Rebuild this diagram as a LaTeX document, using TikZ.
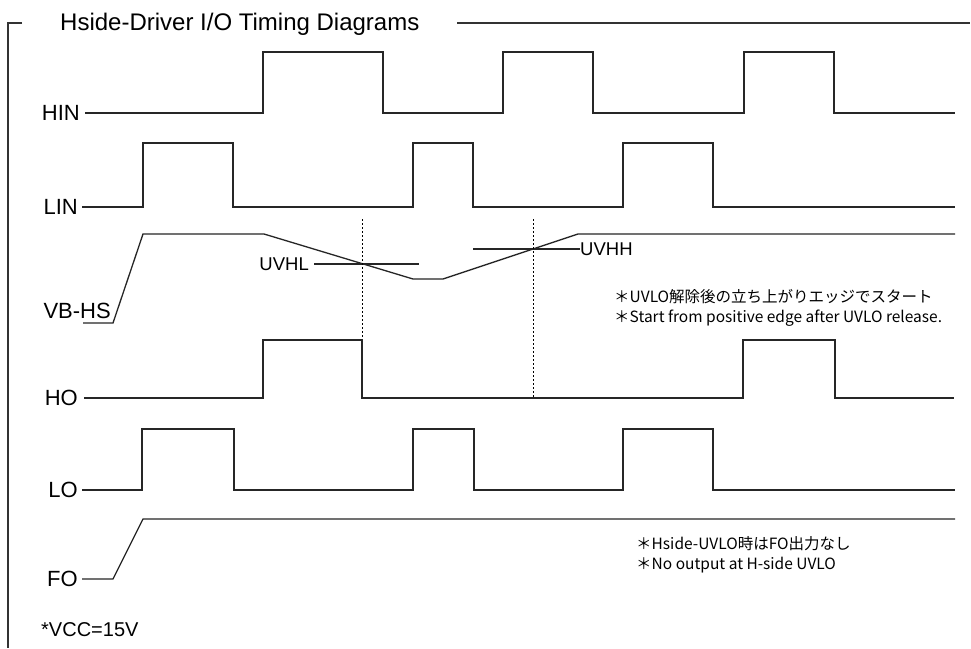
\documentclass[tikz,border=0pt]{standalone}
\usepackage{fontspec}
\setmainfont{Liberation Sans}
\newfontfamily\jpfont{Noto Sans CJK JP}
\begin{document}
\begin{tikzpicture}[x=1pt,y=-1pt,
  wave/.style={line width=1.3pt, black!85, line join=miter},
  frameline/.style={line width=1.3pt, black!80},
  vmark/.style={line width=0.8pt, dash pattern=on 2pt off 2pt, black},
  lbl/.style={font=\fontsize{22}{22}\selectfont, inner sep=0pt, anchor=east},
  uvlbl/.style={font=\fontsize{18.5}{18.5}\selectfont, inner sep=0pt},
  note/.style={font=\jpfont\fontsize{15.5}{15.5}\selectfont, inner sep=0pt, anchor=west}]
\useasboundingbox (0,0) rectangle (971,648);
\fill[white] (0,0) rectangle (971,648);
% frame and title
\node[font=\fontsize{24}{24}\selectfont, inner sep=0pt, anchor=west] (title) at (60,24) {Hside-Driver I/O Timing Diagrams};
\coordinate (fa) at (22,23);
\coordinate (fb) at (8,23);
\coordinate (fc) at (8,648);
\coordinate (fd) at (457,23);
\coordinate (fe) at (970,23);
\draw[frameline] (fa) -- (fb) -- (fc);
\draw[frameline] (fd) -- (fe);
% HIN
\node[lbl] (hin) at (80,113) {HIN};
\draw[wave] ([xshift=5pt]hin.east) -- (263,113) -- (263,52) -- (383,52) -- (383,113) -- (503,113) -- (503,52) -- (593,52) -- (593,113) -- (744,113) -- (744,52) -- (834,52) -- (834,113) -- (955,113);
% LIN
\node[lbl] (lin) at (78,207) {LIN};
\draw[wave] ([xshift=4pt]lin.east) -- (143,207) -- (143,143) -- (233,143) -- (233,207) -- (413,207) -- (413,143) -- (473,143) -- (473,207) -- (623,207) -- (623,143) -- (713,143) -- (713,207) -- (955,207);
% VB-HS
\node[font=\fontsize{22}{22}\selectfont, inner sep=0pt, anchor=base east] (vbhs) at (111,318) {VB-HS};
\coordinate (vbstart) at (83,323);
\draw[wave] (vbstart) -- (113,323) -- (143,234) -- (264,234) -- (413,279) -- (443,279) -- (578,234) -- (955,234);
% UV thresholds
\node[uvlbl, anchor=east] (uvhl) at (309,264) {UVHL};
\draw[wave] ([xshift=5pt]uvhl.east) -- (419,264);
\node[uvlbl, anchor=west] (uvhh) at (580,249) {UVHH};
\coordinate (uvhhstart) at (473,249);
\draw[wave] (uvhhstart) -- (uvhh.west);
% dotted markers
\coordinate (d1a) at (362,219);
\coordinate (d1b) at (362,340);
\coordinate (d2a) at (533,219);
\coordinate (d2b) at (533,398);
\draw[vmark] (d1a) -- (d1b);
\draw[vmark] (d2a) -- (d2b);
% notes
\node[note] (n1) at (614,297) {＊UVLO解除後の立ち上がりエッジでスタート};
\node[note] (n2) at (614,318) {＊Start from positive edge after UVLO release.};
% HO
\node[lbl] (ho) at (78,398) {HO};
\draw[wave] ([xshift=6pt]ho.east) -- (263,398) -- (263,340) -- (362,340) -- (362,398) -- (743,398) -- (743,340) -- (835,340) -- (835,398) -- (954,398);
% LO
\node[lbl] (lo) at (78,490) {LO};
\draw[wave] ([xshift=4pt]lo.east) -- (142,490) -- (142,429) -- (234,429) -- (234,490) -- (413,490) -- (413,429) -- (474,429) -- (474,490) -- (623,490) -- (623,429) -- (713,429) -- (713,490) -- (955,490);
% FO
\node[lbl] (fo) at (78,579) {FO};
\draw[wave] ([xshift=4pt]fo.east) -- (113,579) -- (143,519) -- (955,519);
\node[note] (n3) at (636,544) {＊Hside-UVLO時はFO出力なし};
\node[note] (n4) at (636,565) {＊No output at H-side UVLO};
% VCC
\node[font=\fontsize{20}{20}\selectfont, inner sep=0pt, anchor=west] (vcc) at (41,630) {*VCC=15V};
\end{tikzpicture}
\end{document}
